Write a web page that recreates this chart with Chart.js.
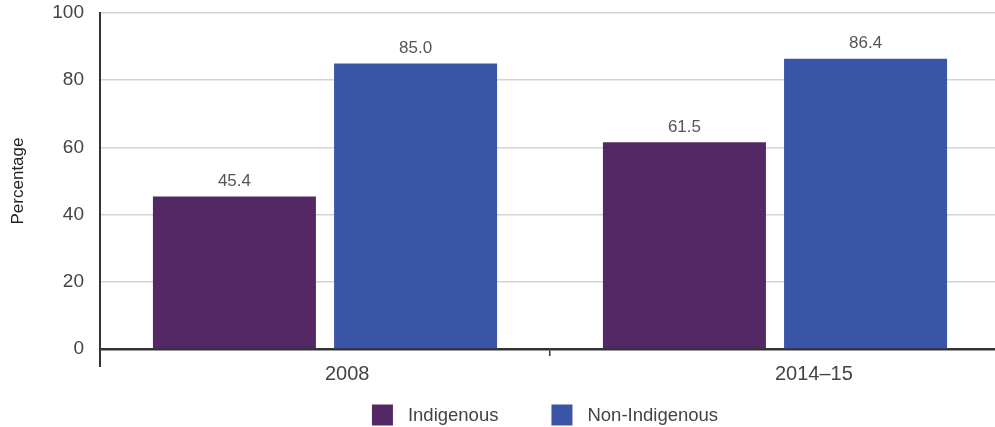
<!DOCTYPE html>
<html>
<head>
<meta charset="utf-8">
<script src="https://cdn.jsdelivr.net/npm/chart.js@4/dist/chart.umd.min.js"></script>
<style>
  html, body { margin: 0; padding: 0; background: #fff; overflow: hidden; }
  #wrap { position: relative; width: 1000px; height: 427px; }
</style>
</head>
<body>
<div id="wrap"><canvas id="chart"></canvas></div>
<script>
// Survey periods and the percentage for each population group
const periods = ['2008', '2014–15'];
const indigenous = [45.4, 61.5];
const nonIndigenous = [85.0, 86.4];
const yTicks = [0, 20, 40, 60, 80, 100];

const PURPLE = '#532864';
const BLUE = '#3a55a5';
const FONT = "'Liberation Sans', Arial, sans-serif";

// Value printed above each bar
const barValues = {
  id: 'barValues',
  afterDatasetsDraw(chart) {
    const ctx = chart.ctx;
    ctx.save();
    ctx.font = '17px ' + FONT;
    ctx.fillStyle = '#555';
    ctx.textAlign = 'center';
    ctx.textBaseline = 'middle';
    chart.data.datasets.forEach((ds, i) => {
      chart.getDatasetMeta(i).data.forEach((bar, j) => {
        ctx.fillText(ds.data[j].toFixed(1), bar.x, bar.y - 15);
      });
    });
    ctx.restore();
  }
};

// Y axis line continues a little below the baseline
const axisStub = {
  id: 'axisStub',
  afterDraw(chart) {
    const { ctx, chartArea } = chart;
    ctx.save();
    ctx.strokeStyle = '#333';
    ctx.lineWidth = 2;
    ctx.beginPath();
    ctx.moveTo(chartArea.left, chartArea.bottom);
    ctx.lineTo(chartArea.left, chartArea.bottom + 18);
    ctx.stroke();
    ctx.restore();
  }
};

// Legend row centred under the plot area
const boxLegend = {
  id: 'boxLegend',
  afterDraw(chart) {
    const { ctx, chartArea } = chart;
    const box = 21, gap = 15, spacing = 53, fontSize = 18.5;
    ctx.save();
    ctx.font = fontSize + 'px ' + FONT;
    ctx.textBaseline = 'middle';
    ctx.textAlign = 'left';
    const items = chart.data.datasets.map(ds => ({
      text: ds.label, color: ds.backgroundColor,
      w: box + gap + ctx.measureText(ds.label).width
    }));
    const total = items.reduce((s, it) => s + it.w, 0) + spacing * (items.length - 1);
    let x = (chartArea.left + chartArea.right) / 2 - total / 2 - 5;
    const cy = chart.height - 12;
    items.forEach(it => {
      ctx.fillStyle = it.color;
      ctx.fillRect(x, cy - box / 2, box, box);
      ctx.fillStyle = '#444';
      ctx.fillText(it.text, x + box + gap, cy + 1);
      x += it.w + spacing;
    });
    ctx.restore();
  }
};

new Chart(document.getElementById('chart'), {
  type: 'bar',
  data: {
    labels: periods,
    datasets: [
      { label: 'Indigenous', data: indigenous, backgroundColor: PURPLE },
      { label: 'Non-Indigenous', data: nonIndigenous, backgroundColor: BLUE }
    ]
  },
  options: {
    responsive: true,
    maintainAspectRatio: false,
    animation: false,
    categoryPercentage: 0.805,
    barPercentage: 0.9,
    layout: { padding: { top: 0, right: 0, bottom: 0, left: 0 } },
    plugins: {
      legend: { display: false },
      tooltip: { enabled: false }
    },
    scales: {
      x: {
        grid: {
          offset: true,
          drawOnChartArea: false,
          drawTicks: true,
          tickLength: 7,
          color: '#333',
          lineWidth: 1.5
        },
        border: { display: true, color: '#333', width: 2.5 },
        ticks: {
          align: 'start',
          padding: 6,
          color: '#444',
          font: { family: FONT, size: 20 }
        },
        afterFit(scale) { scale.height = 78; }
      },
      y: {
        min: 0,
        max: 100,
        afterBuildTicks(scale) { scale.ticks = yTicks.map(v => ({ value: v })); },
        grid: {
          drawTicks: false,
          color: ctx => ctx.tick && ctx.tick.value === 0 ? 'rgba(0,0,0,0)' : '#d3d3d3',
          lineWidth: 1.5
        },
        border: { display: true, color: '#333', width: 2 },
        ticks: {
          padding: 16,
          color: '#444',
          font: { family: FONT, size: 19 }
        },
        title: {
          display: true,
          text: 'Percentage',
          color: '#222',
          font: { family: FONT, size: 17 },
          padding: { top: 8, bottom: 0 }
        },
        afterFit(scale) { scale.width = 100; scale.paddingTop = 13; }
      }
    }
  },
  plugins: [barValues, axisStub, boxLegend]
});
</script>
</body>
</html>
